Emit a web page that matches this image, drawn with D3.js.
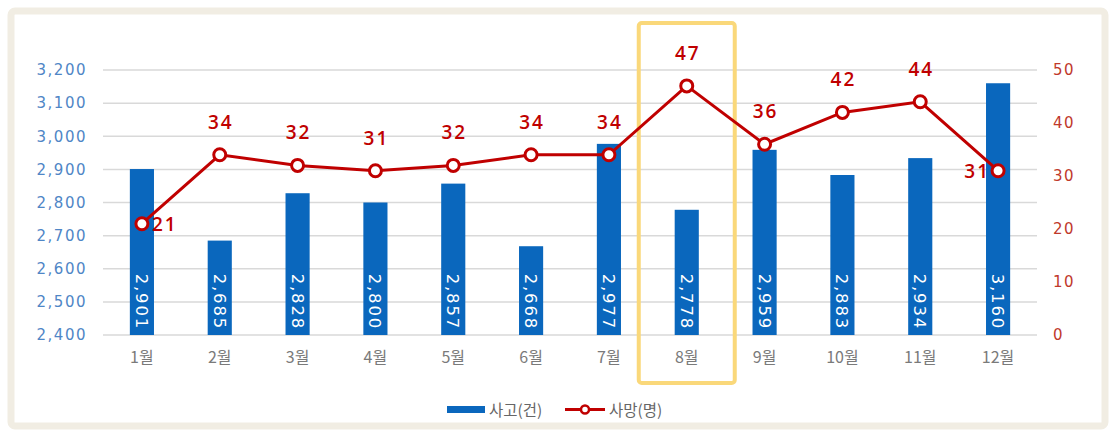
<!DOCTYPE html>
<html><head><meta charset="utf-8">
<script src="https://cdn.jsdelivr.net/npm/d3@7"></script>
<style>html,body{margin:0;padding:0;background:#fff;}svg{display:block;}</style>
</head><body>
<svg id="c" width="1112" height="433"></svg>
<script>
const months = ["1월","2월","3월","4월","5월","6월","7월","8월","9월","10월","11월","12월"];
const accidents = [2901,2685,2828,2800,2857,2668,2977,2778,2959,2883,2934,3160];
const deaths = [21,34,32,31,32,34,34,47,36,42,44,31];
const leftTicks = [2400,2500,2600,2700,2800,2900,3000,3100,3200];
const rightTicks = [0,10,20,30,40,50];
const highlightMonth = "8월";
const seriesNames = ["사고(건)","사망(명)"];

const font = "'DejaVu Sans','Noto Sans CJK KR',sans-serif";
const kfont = "'Noto Sans CJK KR','Noto Sans',sans-serif";
const lfont = "'Open Sans','Noto Sans',sans-serif";
const blue = "#0a67bd", red = "#c00000";
const svg = d3.select("#c");

// frame
svg.append("rect").attr("x",11).attr("y",11).attr("width",1094).attr("height",415)
  .attr("rx",4).attr("fill","#fff").attr("stroke","#f1ede3").attr("stroke-width",7);

const x = d3.scaleBand().domain(months).range([103,1037]).paddingInner(0.69).paddingOuter(0.345);
const yL = d3.scaleLinear().domain([2400,3200]).range([335,70]);
const yR = d3.scaleLinear().domain([0,50]).range([335,70]);

// grid
svg.append("g").selectAll("line").data(leftTicks).join("line")
  .attr("x1",103).attr("x2",1037).attr("y1",d=>yL(d)).attr("y2",d=>yL(d))
  .attr("stroke","#d9d9d9").attr("stroke-width",1.5);

// left axis
const la = svg.append("g").attr("transform","translate(87,0)")
  .call(d3.axisLeft(yL).tickValues(leftTicks).tickFormat(d3.format(",")).tickSize(0).tickPadding(0));
la.select(".domain").remove();
la.selectAll("text").attr("fill","#4f86c6").attr("font-size",15).attr("letter-spacing","1.5px").attr("font-family",font);

// right axis
const ra = svg.append("g").attr("transform","translate(1053,0)")
  .call(d3.axisRight(yR).tickValues(rightTicks).tickSize(0).tickPadding(0));
ra.select(".domain").remove();
ra.selectAll("text").attr("fill","#c0392b").attr("font-size",15).attr("letter-spacing","1.5px").attr("font-family",font);

// x axis
const xa = svg.append("g").attr("transform","translate(0,352)")
  .call(d3.axisBottom(x).tickSize(0).tickPadding(0));
xa.select(".domain").remove();
xa.selectAll("text").attr("fill","#7a7a7a").attr("font-size",16).attr("font-family",kfont);

// highlight box
svg.append("rect").attr("x",x(highlightMonth)+x.bandwidth()/2-48).attr("y",23)
  .attr("width",96).attr("height",360).attr("rx",3)
  .attr("fill","none").attr("stroke","#fad87a").attr("stroke-width",4);

// bars
svg.append("g").selectAll("rect").data(months).join("rect")
  .attr("x",d=>x(d)).attr("width",x.bandwidth())
  .attr("y",(d,i)=>yL(accidents[i])).attr("height",(d,i)=>yL(2400)-yL(accidents[i]))
  .attr("fill",blue);

// bar labels
svg.append("g").selectAll("text").data(months).join("text")
  .attr("transform",(d,i)=>`translate(${x(d)+x.bandwidth()/2},330) rotate(90)`)
  .attr("text-anchor","end").attr("dy","0.36em")
  .attr("fill","#fff").attr("font-size",16.5).attr("letter-spacing","1.8px").attr("font-family",font)
  .text((d,i)=>d3.format(",")(accidents[i]));

// line
const cx = d=>x(d)+x.bandwidth()/2;
svg.append("path").datum(months)
  .attr("d",d3.line().x(cx).y((d,i)=>yR(deaths[i])))
  .attr("fill","none").attr("stroke",red).attr("stroke-width",3);
svg.append("g").selectAll("circle").data(months).join("circle")
  .attr("cx",cx).attr("cy",(d,i)=>yR(deaths[i])).attr("r",6)
  .attr("fill","#fff").attr("stroke",red).attr("stroke-width",3);

// line labels
svg.append("g").selectAll("text").data(months).join("text")
  .attr("x",(d,i)=> i===0 ? cx(d)+10 : (i===months.length-1 ? cx(d)-8 : cx(d)+1))
  .attr("y",(d,i)=> (i===0 || i===months.length-1) ? yR(deaths[i])+7 : yR(deaths[i])-26)
  .attr("text-anchor",(d,i)=> i===0 ? "start" : (i===months.length-1 ? "end" : "middle"))
  .attr("fill",red).attr("font-size",19).attr("font-weight",600).attr("letter-spacing","2px").attr("font-family",lfont)
  .text((d,i)=>deaths[i]);

// legend
const lg = svg.append("g");
lg.append("rect").attr("x",447).attr("y",406).attr("width",38).attr("height",7).attr("fill",blue);
lg.append("text").attr("x",489).attr("y",415.5).attr("fill","#666").attr("font-size",15.5).attr("font-family",kfont).text(seriesNames[0]);
lg.append("line").attr("x1",565).attr("x2",605).attr("y1",409.5).attr("y2",409.5).attr("stroke",red).attr("stroke-width",3);
lg.append("circle").attr("cx",585).attr("cy",409.5).attr("r",4).attr("fill","#fff").attr("stroke",red).attr("stroke-width",2.5);
lg.append("text").attr("x",609).attr("y",415.5).attr("fill","#666").attr("font-size",15.5).attr("font-family",kfont).text(seriesNames[1]);
</script>
</body></html>
